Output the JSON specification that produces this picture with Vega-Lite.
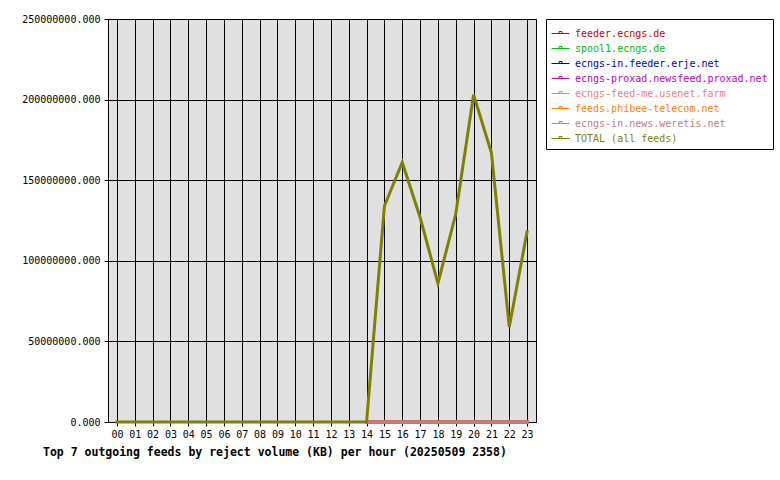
{
  "$schema": "https://vega.github.io/schema/vega-lite/v6.json",
  "width": 428,
  "height": 403,
  "autosize": "none",
  "padding": {"left": 108, "top": 19, "right": 244, "bottom": 58},
  "background": "white",
  "title": {
    "text": "Top 7 outgoing feeds by reject volume (KB) per hour (20250509 2358)",
    "orient": "bottom",
    "anchor": "start",
    "frame": "group",
    "dx": -65,
    "offset": 8,
    "font": "DejaVu Sans Mono",
    "fontSize": 11.5,
    "fontWeight": "bold",
    "color": "black"
  },
  "data": {
    "values": [
      {"hour": "14", "feed": "feeder.ecngs.de", "kb": 0},
      {"hour": "15", "feed": "feeder.ecngs.de", "kb": 0},
      {"hour": "16", "feed": "feeder.ecngs.de", "kb": 0},
      {"hour": "17", "feed": "feeder.ecngs.de", "kb": 0},
      {"hour": "18", "feed": "feeder.ecngs.de", "kb": 0},
      {"hour": "19", "feed": "feeder.ecngs.de", "kb": 0},
      {"hour": "20", "feed": "feeder.ecngs.de", "kb": 0},
      {"hour": "21", "feed": "feeder.ecngs.de", "kb": 0},
      {"hour": "22", "feed": "feeder.ecngs.de", "kb": 0},
      {"hour": "23", "feed": "feeder.ecngs.de", "kb": 0},
      {"hour": "14", "feed": "spool1.ecngs.de", "kb": 0},
      {"hour": "15", "feed": "spool1.ecngs.de", "kb": 0},
      {"hour": "16", "feed": "spool1.ecngs.de", "kb": 0},
      {"hour": "17", "feed": "spool1.ecngs.de", "kb": 0},
      {"hour": "18", "feed": "spool1.ecngs.de", "kb": 0},
      {"hour": "19", "feed": "spool1.ecngs.de", "kb": 0},
      {"hour": "20", "feed": "spool1.ecngs.de", "kb": 0},
      {"hour": "21", "feed": "spool1.ecngs.de", "kb": 0},
      {"hour": "22", "feed": "spool1.ecngs.de", "kb": 0},
      {"hour": "23", "feed": "spool1.ecngs.de", "kb": 0},
      {"hour": "14", "feed": "ecngs-in.feeder.erje.net", "kb": 0},
      {"hour": "15", "feed": "ecngs-in.feeder.erje.net", "kb": 0},
      {"hour": "16", "feed": "ecngs-in.feeder.erje.net", "kb": 0},
      {"hour": "17", "feed": "ecngs-in.feeder.erje.net", "kb": 0},
      {"hour": "18", "feed": "ecngs-in.feeder.erje.net", "kb": 0},
      {"hour": "19", "feed": "ecngs-in.feeder.erje.net", "kb": 0},
      {"hour": "20", "feed": "ecngs-in.feeder.erje.net", "kb": 0},
      {"hour": "21", "feed": "ecngs-in.feeder.erje.net", "kb": 0},
      {"hour": "22", "feed": "ecngs-in.feeder.erje.net", "kb": 0},
      {"hour": "23", "feed": "ecngs-in.feeder.erje.net", "kb": 0},
      {"hour": "14", "feed": "ecngs-proxad.newsfeed.proxad.net", "kb": 0},
      {"hour": "15", "feed": "ecngs-proxad.newsfeed.proxad.net", "kb": 0},
      {"hour": "16", "feed": "ecngs-proxad.newsfeed.proxad.net", "kb": 0},
      {"hour": "17", "feed": "ecngs-proxad.newsfeed.proxad.net", "kb": 0},
      {"hour": "18", "feed": "ecngs-proxad.newsfeed.proxad.net", "kb": 0},
      {"hour": "19", "feed": "ecngs-proxad.newsfeed.proxad.net", "kb": 0},
      {"hour": "20", "feed": "ecngs-proxad.newsfeed.proxad.net", "kb": 0},
      {"hour": "21", "feed": "ecngs-proxad.newsfeed.proxad.net", "kb": 0},
      {"hour": "22", "feed": "ecngs-proxad.newsfeed.proxad.net", "kb": 0},
      {"hour": "23", "feed": "ecngs-proxad.newsfeed.proxad.net", "kb": 0},
      {"hour": "14", "feed": "ecngs-feed-me.usenet.farm", "kb": 0},
      {"hour": "15", "feed": "ecngs-feed-me.usenet.farm", "kb": 0},
      {"hour": "16", "feed": "ecngs-feed-me.usenet.farm", "kb": 0},
      {"hour": "17", "feed": "ecngs-feed-me.usenet.farm", "kb": 0},
      {"hour": "18", "feed": "ecngs-feed-me.usenet.farm", "kb": 0},
      {"hour": "19", "feed": "ecngs-feed-me.usenet.farm", "kb": 0},
      {"hour": "20", "feed": "ecngs-feed-me.usenet.farm", "kb": 0},
      {"hour": "21", "feed": "ecngs-feed-me.usenet.farm", "kb": 0},
      {"hour": "22", "feed": "ecngs-feed-me.usenet.farm", "kb": 0},
      {"hour": "23", "feed": "ecngs-feed-me.usenet.farm", "kb": 0},
      {"hour": "14", "feed": "feeds.phibee-telecom.net", "kb": 0},
      {"hour": "15", "feed": "feeds.phibee-telecom.net", "kb": 0},
      {"hour": "16", "feed": "feeds.phibee-telecom.net", "kb": 0},
      {"hour": "17", "feed": "feeds.phibee-telecom.net", "kb": 0},
      {"hour": "18", "feed": "feeds.phibee-telecom.net", "kb": 0},
      {"hour": "19", "feed": "feeds.phibee-telecom.net", "kb": 0},
      {"hour": "20", "feed": "feeds.phibee-telecom.net", "kb": 0},
      {"hour": "21", "feed": "feeds.phibee-telecom.net", "kb": 0},
      {"hour": "22", "feed": "feeds.phibee-telecom.net", "kb": 0},
      {"hour": "23", "feed": "feeds.phibee-telecom.net", "kb": 0},
      {"hour": "14", "feed": "ecngs-in.news.weretis.net", "kb": 0},
      {"hour": "15", "feed": "ecngs-in.news.weretis.net", "kb": 0},
      {"hour": "16", "feed": "ecngs-in.news.weretis.net", "kb": 0},
      {"hour": "17", "feed": "ecngs-in.news.weretis.net", "kb": 0},
      {"hour": "18", "feed": "ecngs-in.news.weretis.net", "kb": 0},
      {"hour": "19", "feed": "ecngs-in.news.weretis.net", "kb": 0},
      {"hour": "20", "feed": "ecngs-in.news.weretis.net", "kb": 0},
      {"hour": "21", "feed": "ecngs-in.news.weretis.net", "kb": 0},
      {"hour": "22", "feed": "ecngs-in.news.weretis.net", "kb": 0},
      {"hour": "23", "feed": "ecngs-in.news.weretis.net", "kb": 0},
      {"hour": "00", "feed": "TOTAL (all feeds)", "kb": 0},
      {"hour": "01", "feed": "TOTAL (all feeds)", "kb": 0},
      {"hour": "02", "feed": "TOTAL (all feeds)", "kb": 0},
      {"hour": "03", "feed": "TOTAL (all feeds)", "kb": 0},
      {"hour": "04", "feed": "TOTAL (all feeds)", "kb": 0},
      {"hour": "05", "feed": "TOTAL (all feeds)", "kb": 0},
      {"hour": "06", "feed": "TOTAL (all feeds)", "kb": 0},
      {"hour": "07", "feed": "TOTAL (all feeds)", "kb": 0},
      {"hour": "08", "feed": "TOTAL (all feeds)", "kb": 0},
      {"hour": "09", "feed": "TOTAL (all feeds)", "kb": 0},
      {"hour": "10", "feed": "TOTAL (all feeds)", "kb": 0},
      {"hour": "11", "feed": "TOTAL (all feeds)", "kb": 0},
      {"hour": "12", "feed": "TOTAL (all feeds)", "kb": 0},
      {"hour": "13", "feed": "TOTAL (all feeds)", "kb": 0},
      {"hour": "14", "feed": "TOTAL (all feeds)", "kb": 0},
      {"hour": "15", "feed": "TOTAL (all feeds)", "kb": 134000000},
      {"hour": "16", "feed": "TOTAL (all feeds)", "kb": 161000000},
      {"hour": "17", "feed": "TOTAL (all feeds)", "kb": 127000000},
      {"hour": "18", "feed": "TOTAL (all feeds)", "kb": 86000000},
      {"hour": "19", "feed": "TOTAL (all feeds)", "kb": 129000000},
      {"hour": "20", "feed": "TOTAL (all feeds)", "kb": 203000000},
      {"hour": "21", "feed": "TOTAL (all feeds)", "kb": 167000000},
      {"hour": "22", "feed": "TOTAL (all feeds)", "kb": 59000000},
      {"hour": "23", "feed": "TOTAL (all feeds)", "kb": 118000000}
    ]
  },
  "mark": {"type": "line", "strokeWidth": 3, "strokeCap": "square"},
  "encoding": {
    "x": {
      "field": "hour",
      "type": "ordinal",
      "scale": {"type": "point", "padding": 0.5},
      "axis": {
        "title": null,
        "labelAngle": 0,
        "grid": true,
        "tickSize": 4,
        "labelPadding": 3
      }
    },
    "y": {
      "field": "kb",
      "type": "quantitative",
      "scale": {"domain": [0, 250000000], "nice": false},
      "axis": {
        "title": null,
        "values": [0, 50000000, 100000000, 150000000, 200000000, 250000000],
        "format": ".3f",
        "tickSize": 4,
        "labelPadding": 4
      }
    },
    "color": {
      "field": "feed",
      "type": "nominal",
      "scale": {
        "domain": [
          "feeder.ecngs.de",
          "spool1.ecngs.de",
          "ecngs-in.feeder.erje.net",
          "ecngs-proxad.newsfeed.proxad.net",
          "ecngs-feed-me.usenet.farm",
          "feeds.phibee-telecom.net",
          "ecngs-in.news.weretis.net",
          "TOTAL (all feeds)"
        ],
        "range": ["#cc0000", "#00c000", "#0000c0", "#c000c0", "#f08080", "#ff8000", "#c08080", "#808000"]
      },
      "legend": {
        "title": null,
        "orient": "right",
        "offset": 10,
        "padding": 5,
        "strokeColor": "black",
        "fillColor": "white",
        "symbolType": "M-1,0H1M-0.16,0V-0.22H0.16V0",
        "symbolSize": 324,
        "symbolStrokeWidth": 1,
        "symbolFillColor": "transparent",
        "labelOffset": 5,
        "rowPadding": 0,
        "labelFont": "DejaVu Sans Mono",
        "labelFontSize": 10,
        "labelLimit": 300,
        "encode": {
          "labels": {
            "update": {"fill": {"scale": "color", "field": "value"}}
          }
        }
      }
    }
  },
  "config": {
    "view": {"fill": "#e0e0e0", "stroke": "black", "strokeWidth": 1},
    "axis": {
      "domainColor": "black",
      "gridColor": "black",
      "gridOpacity": 1,
      "gridWidth": 1,
      "tickColor": "black",
      "labelColor": "black",
      "labelFont": "DejaVu Sans Mono",
      "labelFontSize": 10
    }
  }
}
